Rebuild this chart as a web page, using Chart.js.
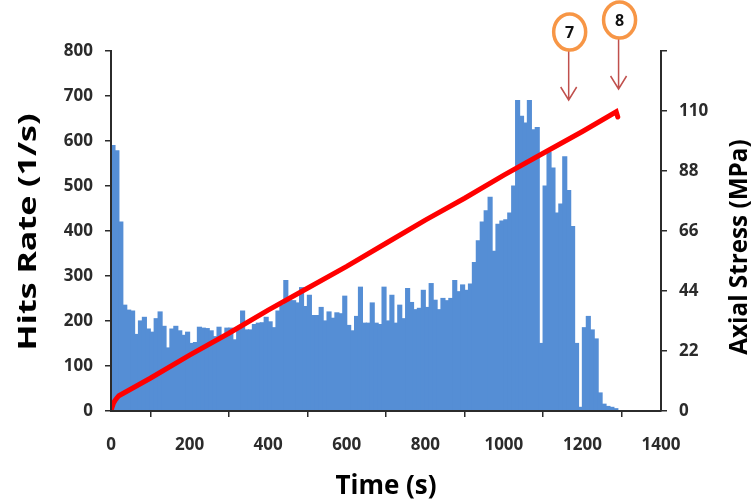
<!DOCTYPE html>
<html>
<head>
<meta charset="utf-8">
<script src="https://cdn.jsdelivr.net/npm/chart.js@4.4.1/dist/chart.umd.min.js"></script>
<style>
  html, body { margin: 0; padding: 0; background: #ffffff; }
  #chart-wrap { width: 753px; height: 502px; }
</style>
</head>
<body>
<div id="chart-wrap"><canvas id="hits-chart" width="753" height="502"></canvas></div>
<script>
// Datos
const binWidth = 10; // s, ancho de cada barra

// Tasa de hits (1/s), una barra cada 10 s desde t = 0
const hitsRate = [
  590, 578, 420, 235, 224, 222, 170, 200, 208, 182,
  175, 205, 220, 188, 140, 182, 188, 178, 168, 175,
  150, 152, 186, 184, 183, 178, 165, 186, 165, 184,
  184, 158, 180, 222, 180, 180, 192, 195, 196, 208,
  198, 185, 222, 235, 290, 245, 245, 240, 274, 232,
  257, 212, 212, 230, 200, 220, 206, 218, 216, 255,
  190, 178, 210, 275, 195, 195, 240, 195, 192, 275,
  200, 257, 195, 235, 205, 272, 241, 225, 228, 268,
  230, 283, 246, 225, 250, 245, 250, 290, 265, 280,
  268, 282, 330, 378, 420, 445, 475, 355, 415, 422,
  425, 440, 500, 690, 655, 640, 690, 625, 630, 150,
  500, 575, 540, 440, 460, 565, 490, 410, 150, 8,
  185, 210, 180, 160, 40, 15, 10, 8, 5
];

// Tensión axial (MPa) frente al tiempo (s)
const stressTime = [0, 3, 6, 10, 14, 20, 100, 200, 300, 400, 500, 600, 700, 800, 900, 1000, 1100, 1200, 1286, 1290];
const stressValue = [0, 1.5, 2.8, 3.8, 4.6, 5.6, 12, 20.5, 28.5, 37, 45, 53, 61.5, 70, 78, 86.5, 94.5, 102.5, 109.7, 107.8];

// Ejes
const timeAxis = { min: 0, max: 1400, step: 200 };
const hitsAxis = { min: 0, max: 800, step: 100 };
const stressAxis = { min: 0, max: 132, step: 22, lastLabel: 110 };

// Eventos marcados con flecha
const eventLabels = ['7', '8'];
const eventTimes = [1165, 1292];

const tickFont = { family: 'Open Sans', size: 17, weight: 'bold' };
const titleFont = { family: 'Open Sans', size: 26, weight: 'bold', lineHeight: 1.2 };
const axisColor = '#2b2b2b';

/**
 * Escribe un texto girado, estirado a lo largo de su dirección
 */
function drawRotatedTitle(ctx, text, x, y, stretch) {
  ctx.save();
  ctx.translate(x, y);
  ctx.rotate(-Math.PI / 2);
  ctx.scale(stretch, 1);
  ctx.font = 'bold 25px "Open Sans"';
  ctx.fillStyle = '#000000';
  ctx.textAlign = 'center';
  ctx.textBaseline = 'middle';
  ctx.fillText(text, 0, 0);
  ctx.restore();
}

/**
 * Dibuja los títulos de los ejes verticales y las marcas de eventos
 */
const annotationsPlugin = {
  id: 'annotations',
  afterDraw(chart) {
    const { ctx, chartArea, scales } = chart;
    const midY = (chartArea.top + chartArea.bottom) / 2;

    // Títulos verticales, leídos de abajo hacia arriba
    drawRotatedTitle(ctx, 'Hits Rate (1/s)', 29, midY + 1, 1.36);
    drawRotatedTitle(ctx, 'Axial Stress (MPa)', chartArea.right + 79, midY + 16, 0.97);

    // Círculos y flechas de los eventos
    const circleOffsets = [19, 31];
    const tipOffsets = [49, 38];
    eventTimes.forEach((time, i) => {
      const x = scales.x.getPixelForValue(time);
      const cy = chartArea.top - circleOffsets[i];
      const tipY = chartArea.top + tipOffsets[i];

      ctx.save();
      ctx.strokeStyle = '#C0504D';
      ctx.lineWidth = 1.5;
      ctx.beginPath();
      ctx.moveTo(x, cy + 18);
      ctx.lineTo(x, tipY);
      ctx.moveTo(x - 8, tipY - 13);
      ctx.lineTo(x, tipY);
      ctx.lineTo(x + 8, tipY - 13);
      ctx.stroke();

      ctx.beginPath();
      ctx.ellipse(x + 1, cy, 16, 18, 0, 0, Math.PI * 2);
      ctx.fillStyle = '#ffffff';
      ctx.fill();
      ctx.strokeStyle = '#F79646';
      ctx.lineWidth = 3.5;
      ctx.stroke();

      ctx.fillStyle = '#111111';
      ctx.font = 'bold 16px "Open Sans"';
      ctx.textAlign = 'center';
      ctx.textBaseline = 'middle';
      ctx.fillText(eventLabels[i], x + 1, cy + 1);
      ctx.restore();
    });
  }
};

/**
 * Crea el gráfico de hits y tensión
 */
function createChart() {
  const ctx = document.getElementById('hits-chart').getContext('2d');

  const barData = hitsRate.map((v, i) => ({ x: i * binWidth + binWidth / 2, y: v }));
  const lineData = stressTime.map((t, i) => ({ x: t, y: stressValue[i] }));

  const gridTicks = { drawOnChartArea: false, drawTicks: true, tickLength: 6, color: axisColor, lineWidth: 1.5 };
  const border = { display: true, color: axisColor, width: 2, z: 1 };

  return new Chart(ctx, {
    type: 'bar',
    data: {
      datasets: [{
        type: 'line',
        label: 'Axial Stress',
        data: lineData,
        yAxisID: 'y2',
        borderColor: '#FF0000',
        borderWidth: 5,
        borderCapStyle: 'round',
        pointRadius: 0,
        tension: 0,
        order: 0
      }, {
        type: 'bar',
        label: 'Hits Rate',
        data: barData,
        yAxisID: 'y',
        backgroundColor: '#558ED5',
        borderWidth: 0,
        inflateAmount: 0.6,
        barPercentage: 1,
        categoryPercentage: 1,
        order: 1
      }]
    },
    options: {
      responsive: false,
      animation: false,
      layout: { padding: { top: 51, left: 0, right: 0, bottom: 0 } },
      plugins: {
        legend: { display: false },
        tooltip: { enabled: false }
      },
      scales: {
        x: {
          type: 'linear',
          offset: false,
          min: timeAxis.min,
          max: timeAxis.max,
          ticks: {
            stepSize: timeAxis.step,
            font: tickFont,
            color: axisColor,
            padding: 18,
            maxRotation: 0,
            callback: (v) => String(v)
          },
          grid: gridTicks,
          border: border,
          title: { display: true, text: 'Time (s)', font: titleFont, color: '#000000', padding: { top: 0, bottom: 0 } },
          afterFit(scale) { scale.height = 91; }
        },
        y: {
          position: 'left',
          min: hitsAxis.min,
          max: hitsAxis.max,
          ticks: { stepSize: hitsAxis.step, font: tickFont, color: axisColor, padding: 12 },
          grid: gridTicks,
          border: border,
          afterFit(scale) { scale.width = 111; }
        },
        y2: {
          position: 'right',
          min: stressAxis.min,
          max: stressAxis.max,
          ticks: {
            stepSize: stressAxis.step,
            font: tickFont,
            color: axisColor,
            padding: 12,
            callback: (v) => (v > stressAxis.lastLabel ? '' : v)
          },
          grid: gridTicks,
          border: border,
          afterFit(scale) { scale.width = 92; }
        }
      }
    },
    plugins: [annotationsPlugin]
  });
}

createChart();
</script>
</body>
</html>
